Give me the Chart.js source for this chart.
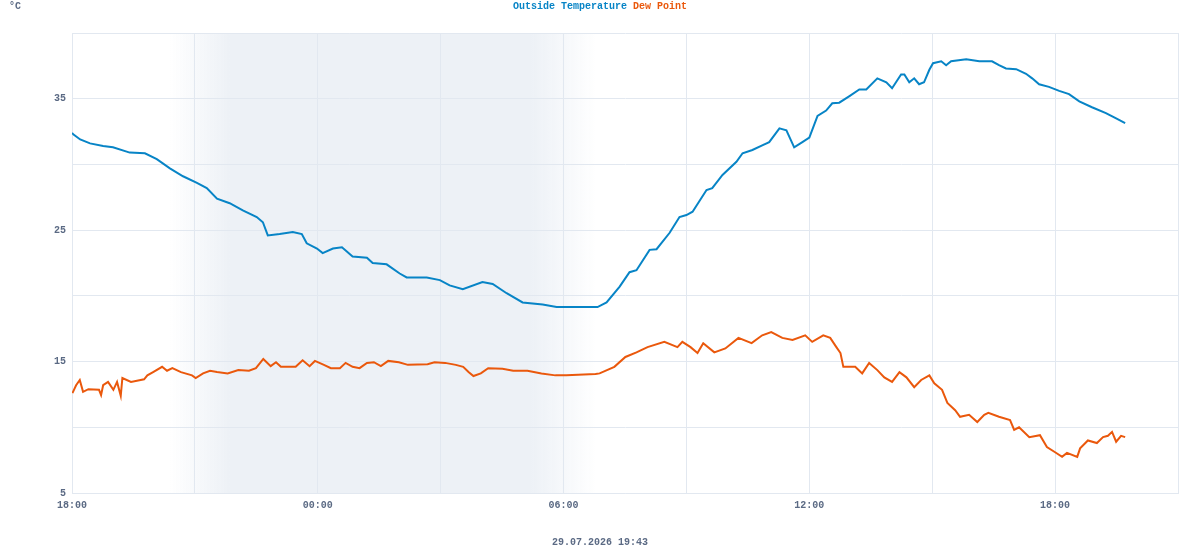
<!DOCTYPE html>
<html>
<head>
<meta charset="utf-8">
<script src="https://cdn.jsdelivr.net/npm/chart.js@4/dist/chart.umd.min.js"></script>
<style>
  html, body { margin: 0; padding: 0; background: #fff; }
  #wrap { width: 1200px; height: 550px; }
</style>
</head>
<body>
<div id="wrap"><canvas id="chart" width="1200" height="550"></canvas></div>
<script>
// hours since 18:00 on 28.07
const tempHours = [0, 0.03, 0.2, 0.44, 0.76, 1.0, 1.41, 1.78, 2.07, 2.39, 2.71, 3.05, 3.29, 3.54, 3.85, 4.17, 4.51, 4.66, 4.78, 5.07, 5.39, 5.61, 5.73, 5.98, 6.12, 6.37, 6.59, 6.85, 7.2, 7.34, 7.68, 8.0, 8.17, 8.66, 8.98, 9.22, 9.54, 10.02, 10.27, 10.61, 11.0, 11.49, 11.83, 12.46, 12.83, 13.05, 13.37, 13.61, 13.78, 14.1, 14.27, 14.59, 14.83, 15.0, 15.15, 15.49, 15.63, 15.88, 16.22, 16.37, 16.61, 16.85, 17.02, 17.27, 17.44, 17.63, 17.83, 18.0, 18.2, 18.41, 18.56, 18.73, 18.98, 19.22, 19.39, 19.66, 19.88, 20.02, 20.24, 20.32, 20.44, 20.56, 20.68, 20.8, 20.93, 21.02, 21.22, 21.34, 21.46, 21.83, 22.15, 22.46, 22.63, 22.8, 23.05, 23.29, 23.44, 23.61, 23.85, 24.1, 24.34, 24.59, 24.9, 25.24, 25.49, 25.71];
const tempValues = [32.4, 32.3, 31.9, 31.6, 31.4, 31.3, 30.9, 30.85, 30.4, 29.7, 29.1, 28.6, 28.2, 27.4, 27.05, 26.5, 26.0, 25.6, 24.6, 24.7, 24.85, 24.7, 24.0, 23.6, 23.25, 23.6, 23.7, 23.0, 22.9, 22.5, 22.4, 21.7, 21.4, 21.4, 21.2, 20.8, 20.5, 21.05, 20.9, 20.2, 19.5, 19.35, 19.15, 19.15, 19.15, 19.5, 20.7, 21.8, 21.95, 23.5, 23.55, 24.8, 26.0, 26.15, 26.4, 28.05, 28.2, 29.2, 30.2, 30.85, 31.1, 31.45, 31.7, 32.75, 32.6, 31.3, 31.7, 32.05, 33.7, 34.1, 34.65, 34.7, 35.2, 35.7, 35.7, 36.55, 36.25, 35.8, 36.85, 36.85, 36.25, 36.55, 36.1, 36.25, 37.2, 37.7, 37.85, 37.55, 37.85, 38.0, 37.85, 37.85, 37.55, 37.3, 37.25, 36.9, 36.55, 36.1, 35.9, 35.6, 35.35, 34.8, 34.35, 33.9, 33.5, 33.15];

const dewHours = [0.01, 0.1, 0.19, 0.27, 0.4, 0.66, 0.71, 0.76, 0.88, 1.01, 1.1, 1.19, 1.23, 1.44, 1.76, 1.84, 1.98, 2.2, 2.32, 2.45, 2.66, 2.93, 3.02, 3.2, 3.37, 3.54, 3.8, 4.06, 4.32, 4.49, 4.67, 4.85, 4.98, 5.1, 5.46, 5.63, 5.8, 5.93, 6.15, 6.32, 6.54, 6.68, 6.85, 7.02, 7.2, 7.37, 7.54, 7.72, 7.98, 8.2, 8.68, 8.85, 9.11, 9.37, 9.55, 9.68, 9.8, 9.98, 10.16, 10.51, 10.77, 11.12, 11.46, 11.8, 12.07, 12.78, 12.88, 13.24, 13.51, 13.78, 14.05, 14.46, 14.78, 14.9, 15.1, 15.27, 15.41, 15.68, 15.95, 16.27, 16.59, 16.85, 17.07, 17.34, 17.59, 17.9, 18.07, 18.34, 18.51, 18.66, 18.76, 18.83, 19.12, 19.29, 19.46, 19.66, 19.83, 20.02, 20.2, 20.37, 20.56, 20.73, 20.93, 21.05, 21.24, 21.37, 21.56, 21.68, 21.9, 22.1, 22.27, 22.37, 22.63, 22.9, 23.0, 23.12, 23.37, 23.63, 23.8, 24.0, 24.17, 24.29, 24.54, 24.61, 24.8, 25.02, 25.17, 25.29, 25.39, 25.49, 25.61, 25.71];
const dewValues = [12.6, 13.2, 13.6, 12.7, 12.9, 12.85, 12.45, 13.2, 13.45, 12.85, 13.45, 12.4, 13.75, 13.45, 13.65, 13.95, 14.2, 14.6, 14.3, 14.5, 14.2, 13.95, 13.75, 14.1, 14.3, 14.2, 14.1, 14.35, 14.3, 14.5, 15.2, 14.65, 14.95, 14.6, 14.6, 15.1, 14.65, 15.05, 14.75, 14.5, 14.5, 14.9, 14.6, 14.5, 14.9, 14.95, 14.65, 15.05, 14.95, 14.75, 14.8, 14.95, 14.9, 14.75, 14.6, 14.2, 13.9, 14.1, 14.5, 14.45, 14.3, 14.3, 14.1, 13.95, 13.95, 14.05, 14.1, 14.6, 15.35, 15.7, 16.1, 16.5, 16.1, 16.5, 16.1, 15.65, 16.4, 15.7, 16.0, 16.8, 16.4, 17.0, 17.25, 16.8, 16.65, 17.0, 16.5, 17.0, 16.8, 16.1, 15.65, 14.6, 14.6, 14.1, 14.9, 14.35, 13.8, 13.45, 14.2, 13.8, 13.05, 13.6, 13.95, 13.35, 12.85, 11.85, 11.3, 10.8, 10.95, 10.4, 10.95, 11.1, 10.8, 10.55, 9.8, 10.0, 9.25, 9.4, 8.5, 8.1, 7.75, 8.05, 7.75, 8.4, 9.0, 8.8, 9.25, 9.35, 9.65, 8.9, 9.35, 9.25];

const xTickLabels = { 0: '18:00', 6: '00:00', 12: '06:00', 18: '12:00', 24: '18:00' };
const yTickLabels = [5, 15, 25, 35];
// night: fade in start, full dark, full dark end, fade out end (hours since 18:00)
const nightHours = [2.4, 3.85, 11.2, 12.8];

const seriesNames = ['Outside Temperature', 'Dew Point'];
const seriesColors = ['#0784c6', '#ea580c'];
const unitLabel = '°C';
const stampLabel = '29.07.2026 19:43';

const FONT = 'bold 10px "Liberation Mono", "DejaVu Sans Mono", monospace';
const TEXT = '#5b6a84';
const GRID = '#e2e8f0';

const nightShade = {
  id: 'nightShade',
  beforeDraw(chart) {
    const { ctx, chartArea, scales } = chart;
    const x = scales.x;
    const a = x.getPixelForValue(nightHours[0]);
    const b = x.getPixelForValue(nightHours[1]);
    const c = x.getPixelForValue(nightHours[2]);
    const d = x.getPixelForValue(nightHours[3]);
    const g = ctx.createLinearGradient(a, 0, d, 0);
    const col = 'rgba(237,241,246,1)';
    const clear = 'rgba(237,241,246,0)';
    g.addColorStop(0, clear);
    g.addColorStop((b - a) / (d - a), col);
    g.addColorStop((c - a) / (d - a), col);
    g.addColorStop(1, clear);
    ctx.save();
    ctx.fillStyle = g;
    ctx.fillRect(a, chartArea.top, d - a, chartArea.bottom - chartArea.top);
    ctx.restore();
  }
};

const headerText = {
  id: 'headerText',
  afterDraw(chart) {
    const ctx = chart.ctx;
    ctx.save();
    ctx.font = FONT;
    ctx.textBaseline = 'middle';
    // legend, centred over canvas
    const gap = ctx.measureText(' ').width;
    const w0 = ctx.measureText(seriesNames[0]).width;
    const w1 = ctx.measureText(seriesNames[1]).width;
    let x = (chart.width - (w0 + gap + w1)) / 2;
    ctx.textAlign = 'left';
    ctx.fillStyle = seriesColors[0];
    ctx.fillText(seriesNames[0], x, 6);
    ctx.fillStyle = seriesColors[1];
    ctx.fillText(seriesNames[1], x + w0 + gap, 6);
    // unit
    ctx.fillStyle = TEXT;
    ctx.fillText(unitLabel, 9, 6);
    // time stamp
    ctx.textAlign = 'center';
    ctx.fillText(stampLabel, chart.width / 2, 542);
    ctx.restore();
  }
};

const toPoints = (xs, ys) => xs.map((h, i) => ({ x: h, y: ys[i] }));

new Chart(document.getElementById('chart'), {
  type: 'line',
  data: {
    datasets: [
      {
        label: seriesNames[0],
        data: toPoints(tempHours, tempValues),
        borderColor: seriesColors[0],
        borderWidth: 2,
        pointRadius: 0,
        tension: 0
      },
      {
        label: seriesNames[1],
        data: toPoints(dewHours, dewValues),
        borderColor: seriesColors[1],
        borderWidth: 2,
        pointRadius: 0,
        tension: 0
      }
    ]
  },
  options: {
    responsive: false,
    animation: false,
    layout: { padding: { top: 33, right: 22, left: 0, bottom: 0 } },
    plugins: {
      legend: { display: false },
      tooltip: { enabled: false }
    },
    scales: {
      x: {
        type: 'linear',
        min: 0,
        max: 27,
        afterFit: (s) => { s.height = 57; },
        grid: { color: GRID, drawTicks: false },
        border: { color: GRID },
        ticks: {
          stepSize: 3,
          padding: 6,
          color: TEXT,
          font: { family: '"Liberation Mono", monospace', size: 10, weight: 'bold' },
          maxRotation: 0,
          autoSkip: false,
          callback: (v) => xTickLabels[v] || ''
        }
      },
      y: {
        min: 5,
        max: 40,
        afterFit: (s) => { s.width = 72; },
        grid: { color: GRID, drawTicks: false },
        border: { color: GRID },
        ticks: {
          stepSize: 5,
          padding: 6,
          color: TEXT,
          font: { family: '"Liberation Mono", monospace', size: 10, weight: 'bold' },
          callback: (v) => yTickLabels.includes(v) ? String(v) : ''
        }
      }
    }
  },
  plugins: [nightShade, headerText]
});
</script>
</body>
</html>
